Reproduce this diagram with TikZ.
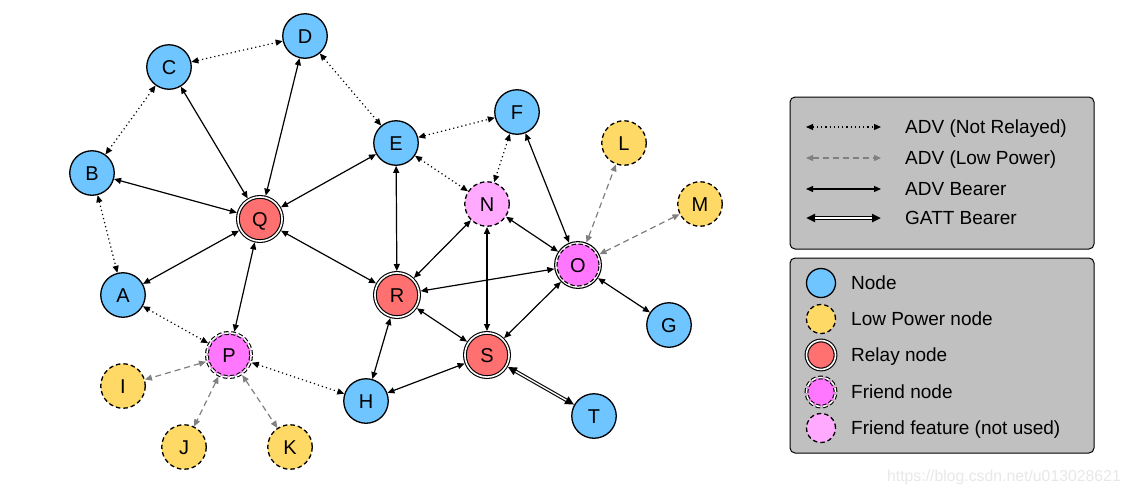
\documentclass[tikz,border=0pt]{standalone}
\usepackage{fontspec}
\setmainfont{Liberation Sans}
\usetikzlibrary{arrows.meta}
\definecolor{nodeblue}{RGB}{111,197,255}
\definecolor{lpyellow}{RGB}{255,217,102}
\definecolor{relayred}{RGB}{255,112,112}
\definecolor{friendpink}{RGB}{255,119,255}
\definecolor{featurepink}{RGB}{255,170,255}
\definecolor{legendgray}{RGB}{192,192,192}
\definecolor{markgray}{RGB}{232,232,232}

\begin{document}
\begin{tikzpicture}[x=1pt,y=-1pt,>={Triangle[length=7pt,width=6pt]},
            every node/.style={font=\fontsize{20}{23}\selectfont},
            meshnode/.style={circle,inner sep=0pt,minimum size=44.5pt,line width=1.3pt,draw=black,text height=14.3pt,text depth=0pt},
            plain/.style={meshnode,fill=nodeblue},
            lowpower/.style={meshnode,fill=lpyellow,dash pattern=on 4.5pt off 3pt},
            relay/.style={meshnode,fill=relayred,minimum size=44.2pt,line width=1.1pt,double=white,double distance=1.6pt,outer sep=1.9pt},
            friend/.style={relay,fill=friendpink,dash pattern=on 4.5pt off 2.5pt},
            friendrelay/.style={meshnode,fill=friendpink,minimum size=42pt,line width=1.1pt,dash pattern=on 4.5pt off 2.5pt,outer sep=3pt},
            friendoff/.style={lowpower,fill=featurepink},
            keysize/.style={minimum size=29pt},
            keytext/.style={anchor=base west,inner sep=0pt,font=\fontsize{19}{22}\selectfont},
            bearer/.style={<->,line width=1.2pt},
            notrelayed/.style={<->,line width=1.2pt,dash pattern=on 1.2pt off 3pt},
            lowpwr/.style={<->,line width=1.2pt,gray,dash pattern=on 6pt off 4pt},
            gatt/.style={>={Triangle[length=9pt,width=8pt]},<->,line width=3.6pt,
                postaction={draw=white,line width=1.4pt,-,shorten <=9pt,shorten >=9pt}}]
            \useasboundingbox[fill=white] (0,0) rectangle (1130,493);

            \node[plain] (C) at (169,67) {C};
            \node[plain] (D) at (305,36) {D};
            \node[plain] (B) at (92,173) {B};
            \node[plain] (E) at (396,143) {E};
            \node[plain] (F) at (517,112) {F};
            \node[plain] (A) at (123,295) {A};
            \node[plain] (G) at (669,325) {G};
            \node[plain] (H) at (366,401) {H};
            \node[plain] (T) at (594,416) {T};
            \node[lowpower] (L) at (624,143) {L};
            \node[lowpower] (M) at (700,204) {M};
            \node[lowpower] (I) at (123,386) {I};
            \node[lowpower] (J) at (184,447) {J};
            \node[lowpower] (K) at (290,447) {K};
            \node[relay] (Q) at (260,219) {Q};
            \node[relay] (R) at (397,295) {R};
            \node[relay] (S) at (487,355) {S};
            \node[friend] (P) at (229,355) {P};
            \node[friendoff] (N) at (487,204) {N};
            \node[friendrelay] (O) at (578,265) {O};
            \draw[line width=1.1pt] (O) circle (23.4pt);

            \draw[notrelayed] (C) -- (D);
            \draw[notrelayed] (C) -- (B);
            \draw[notrelayed] (D) -- (E);
            \draw[notrelayed] (B) -- (A);
            \draw[notrelayed] (A) -- (P);
            \draw[notrelayed] (E) -- (F);
            \draw[notrelayed] (E) -- (N);
            \draw[notrelayed] (F) -- (N);
            \draw[notrelayed] (P) -- (H);

            \draw[lowpwr] (P) -- (I);
            \draw[lowpwr] (P) -- (J);
            \draw[lowpwr] (P) -- (K);
            \draw[lowpwr] (O) -- (L);
            \draw[lowpwr] (O) -- (M);

            \draw[bearer] (Q) -- (B);
            \draw[bearer] (Q) -- (C);
            \draw[bearer] (Q) -- (D);
            \draw[bearer] (Q) -- (E);
            \draw[bearer] (Q) -- (A);
            \draw[bearer] (Q) -- (P);
            \draw[bearer] (Q) -- (R);
            \draw[bearer] (R) -- (E);
            \draw[bearer] (R) -- (N);
            \draw[bearer] (R) -- (O);
            \draw[bearer] (R) -- (S);
            \draw[bearer] (R) -- (H);
            \draw[bearer] (N) -- (O);
            \draw[bearer] (N) -- (S);
            \draw[bearer] (F) -- (O);
            \draw[bearer] (O) -- (G);
            \draw[bearer] (O) -- (S);
            \draw[bearer] (S) -- (H);
            \draw[gatt] (S) -- (T);

            \draw[fill=legendgray,line width=1pt,rounded corners=5pt] (790,97) rectangle (1094,249);
            \draw[fill=legendgray,line width=1pt,rounded corners=5pt] (790,258) rectangle (1094,453);

            \coordinate (k1a) at (806,127);
            \coordinate (k1b) at (881,127);
            \coordinate (k2a) at (806,158);
            \coordinate (k2b) at (881,158);
            \coordinate (k3a) at (806,189);
            \coordinate (k3b) at (881,189);
            \coordinate (k4a) at (806,218);
            \coordinate (k4b) at (881,218);
            \draw[notrelayed] (k1a) -- (k1b);
            \draw[lowpwr] (k2a) -- (k2b);
            \draw[bearer] (k3a) -- (k3b);
            \draw[gatt] (k4a) -- (k4b);
            \node[keytext] at (905,133.8) {ADV (Not Relayed)};
            \node[keytext] at (905,164.8) {ADV (Low Power)};
            \node[keytext] at (905,195.8) {ADV Bearer};
            \node[keytext] at (905,224.8) {GATT Bearer};

            \node[plain,keysize] (keynode) at (821,283) {};
            \node[lowpower,keysize] (keylow) at (821,319) {};
            \node[relay,keysize] (keyrelay) at (821,355) {};
            \node[friend,keysize] (keyfriend) at (821,392) {};
            \node[friendoff,keysize] (keyfeature) at (821,428) {};
            \node[keytext] at (851,289.8) {Node};
            \node[keytext] at (851,325.8) {Low Power node};
            \node[keytext] at (851,361.8) {Relay node};
            \node[keytext] at (851,398.8) {Friend node};
            \node[keytext] at (851,434.8) {Friend feature (not used)};

            \node[anchor=base east,inner sep=0pt,text=markgray,font=\fontsize{15.8}{18}\selectfont] at (1121,481) {https://blog.csdn.net/u013028621};
        \end{tikzpicture}
\end{document}
